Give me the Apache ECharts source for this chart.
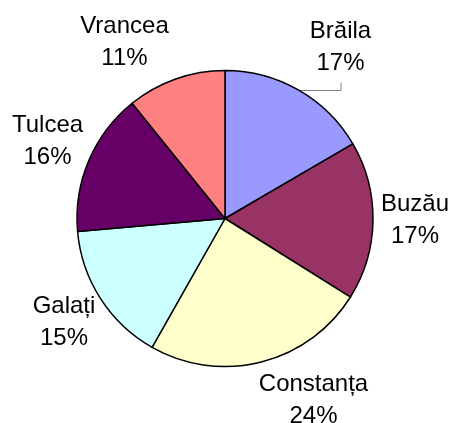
<!DOCTYPE html>
<html>
<head>
<meta charset="utf-8">
<script src="https://cdn.jsdelivr.net/npm/echarts@6/dist/echarts.min.js"></script>
<style>
  html, body { margin: 0; padding: 0; background: #fff; }
  #chart { width: 449px; height: 423px; }
</style>
</head>
<body>
<div id="chart"></div>
<script>
const counties = ['Brăila', 'Buzău', 'Constanța', 'Galați', 'Tulcea', 'Vrancea']
const shares = [16.6, 17.3, 24.3, 15.4, 15.6, 10.8]
const sliceColors = ['#9999FF', '#993366', '#FFFFCC', '#CCFFFF', '#660066', '#FF8080']

// where Excel put each label (block centre), px
const labelSpots = [[340.5, 47.5], [415, 220], [313.5, 400], [64, 322.5], [47.5, 141.5], [124.5, 42]]
const brailaLeader = [[300, 90.5], [341, 90.5], [341, 82.5]]

const chart = echarts.init(document.getElementById('chart'))

chart.setOption({
  backgroundColor: '#fff',
  animation: false,
  series: [{
    type: 'pie',
    center: [225, 218.5],
    radius: [0, 148],
    startAngle: 90,
    clockwise: true,
    avoidLabelOverlap: false,
    itemStyle: {
      borderColor: '#000',
      borderWidth: 1.5
    },
    emphasis: { disabled: true },
    label: {
      show: true,
      position: 'outside',
      fontFamily: 'Liberation Sans, Arial, sans-serif',
      fontSize: 24,
      lineHeight: 32,
      color: '#000',
      align: 'center',
      formatter: p => p.name + '\n' + Math.round(p.percent) + '%'
    },
    labelLine: {
      show: false,
      lineStyle: { color: '#808080', width: 1 }
    },
    labelLayout: p => {
      const spot = labelSpots[p.dataIndex]
      const out = { x: spot[0], y: spot[1], align: 'center', verticalAlign: 'middle' }
      if (p.dataIndex === 0) out.labelLinePoints = brailaLeader
      return out
    },
    data: counties.map((name, i) => ({
      name,
      value: shares[i],
      itemStyle: { color: sliceColors[i] },
      labelLine: { show: i === 0 }
    }))
  }]
})
</script>
</body>
</html>
